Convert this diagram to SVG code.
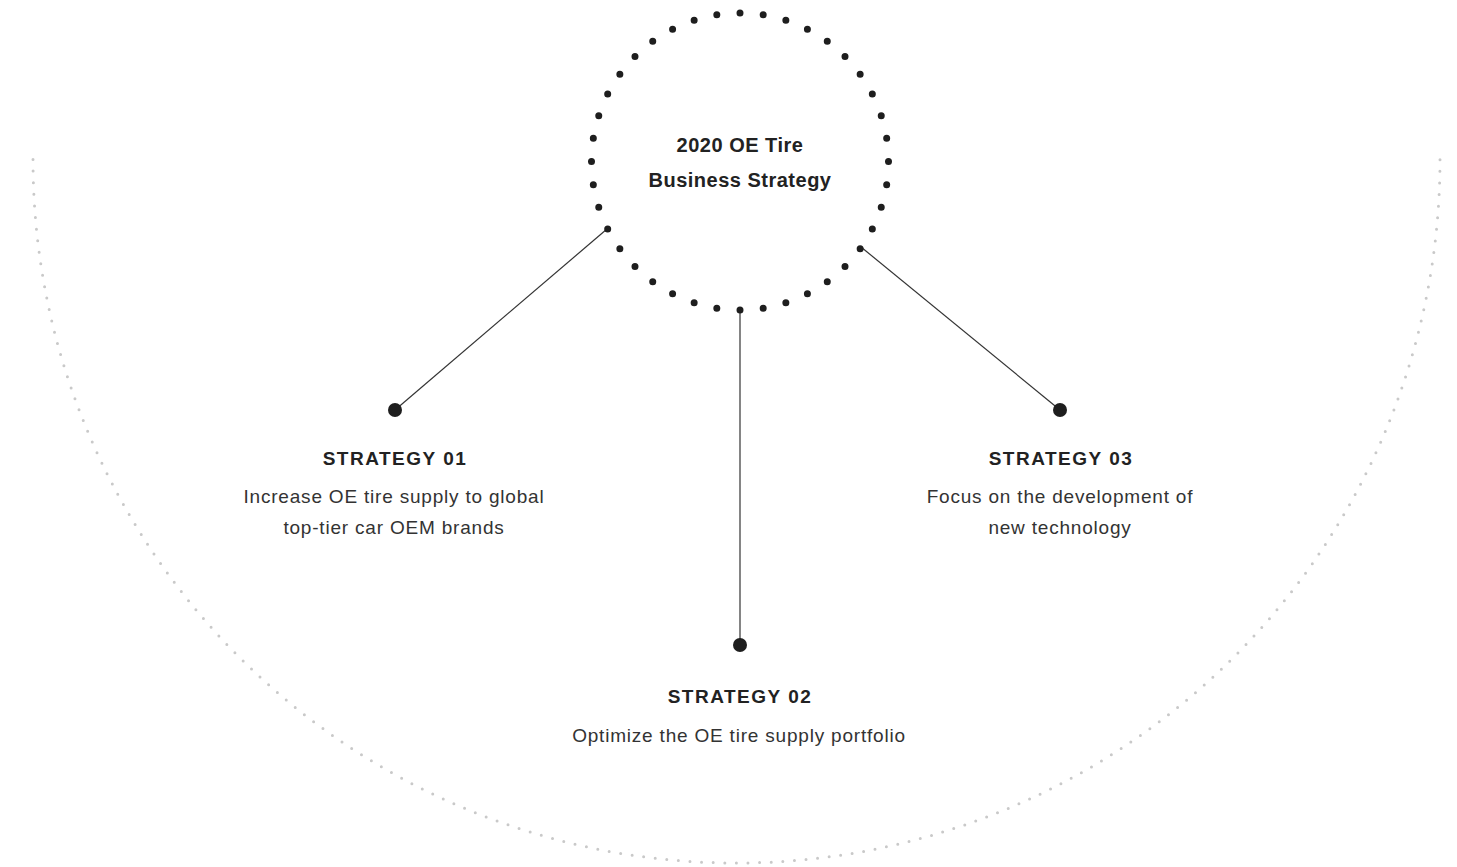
<svg xmlns="http://www.w3.org/2000/svg" width="1457" height="867" viewBox="0 0 1457 867">
<style>
.bg{fill:#fff}
.arc{fill:none;stroke:#c9c9c9;stroke-width:3;stroke-linecap:round;stroke-dasharray:0 0.9999}
.ring{fill:none;stroke:#1e1e1e;stroke-width:7;stroke-linecap:round;stroke-dasharray:0 1}
.conn{stroke:#333;stroke-width:1.2;fill:none}
.end{fill:#1e1e1e}
.title{font-family:"Liberation Sans",Arial,sans-serif;font-weight:bold;font-size:20px;letter-spacing:0.5px;fill:#222;text-anchor:middle}
.head{font-family:"Liberation Sans",Arial,sans-serif;font-weight:bold;font-size:19px;letter-spacing:1.5px;fill:#222;text-anchor:middle}
.desc{font-family:"Liberation Sans",Arial,sans-serif;font-size:19px;letter-spacing:0.8px;fill:#333;text-anchor:middle}
</style>
<rect class="bg" x="0" y="0" width="1457" height="867"/>
<path class="arc" d="M33 159.5 A703.5 703.5 0 0 0 1440 159.5" pathLength="190"/>
<g id="connectors">
<line class="conn" x1="607" y1="229" x2="395" y2="410"/>
<line class="conn" x1="740" y1="310" x2="740" y2="645"/>
<line class="conn" x1="861" y1="247" x2="1060" y2="410"/>
</g>
<g id="center">
<circle class="ring" cx="740" cy="161.5" r="148.5" pathLength="40"/>
<text class="title" x="740" y="152">2020 OE Tire</text>
<text class="title" x="740" y="187">Business Strategy</text>
</g>
<g id="strategy01">
<circle class="end" cx="395" cy="410" r="7"/>
<text class="head" x="395" y="465">STRATEGY 01</text>
<text class="desc" x="394" y="503">Increase OE tire supply to global</text>
<text class="desc" x="394" y="534">top-tier car OEM brands</text>
</g>
<g id="strategy02">
<circle class="end" cx="740" cy="645" r="7"/>
<text class="head" x="740" y="703">STRATEGY 02</text>
<text class="desc" x="739" y="742">Optimize the OE tire supply portfolio</text>
</g>
<g id="strategy03">
<circle class="end" cx="1060" cy="410" r="7"/>
<text class="head" x="1061" y="465">STRATEGY 03</text>
<text class="desc" x="1060" y="503">Focus on the development of</text>
<text class="desc" x="1060" y="534">new technology</text>
</g>
</svg>
